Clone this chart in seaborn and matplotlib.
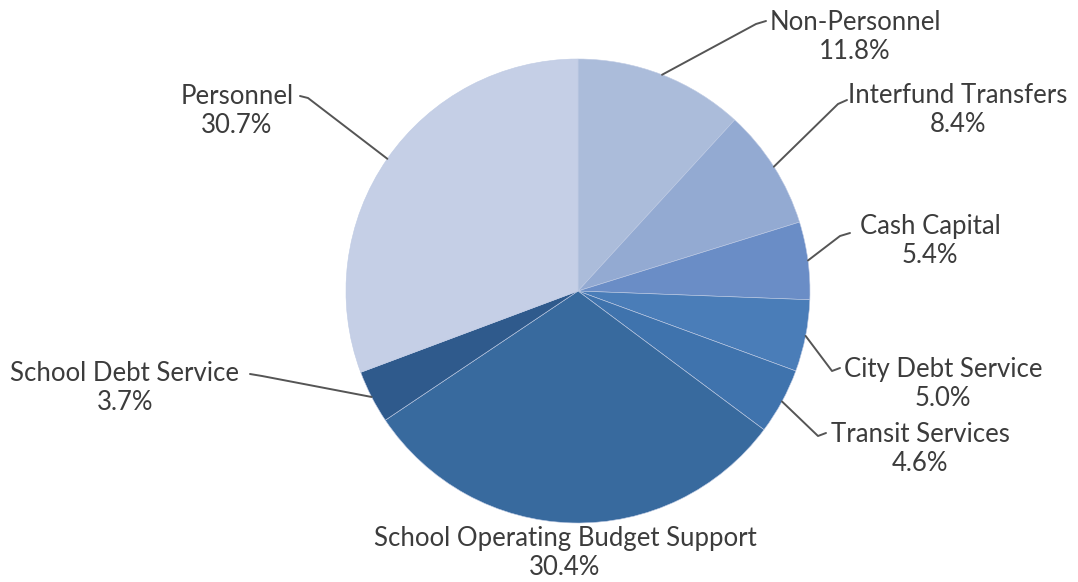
import numpy as np
import matplotlib
matplotlib.use("Agg")
import matplotlib.pyplot as plt
import seaborn as sns

categories = ["Non-Personnel", "Interfund Transfers", "Cash Capital", "City Debt Service",
              "Transit Services", "School Operating Budget Support", "School Debt Service", "Personnel"]
values = [11.8, 8.4, 5.4, 5.0, 4.6, 30.4, 3.7, 30.7]
colors = ["#ABBCDA", "#93AAD2", "#6A8DC6", "#4A7DB8", "#3F73AD", "#386A9E", "#2F5A8C", "#C5CFE6"]

sns.set_theme(style="white")
plt.rcParams["font.family"] = ["Lato", "DejaVu Sans"]

W, H = 1078, 582
fig = plt.figure(figsize=(W / 100, H / 100), dpi=100)
ax = fig.add_axes([0, 0, 1, 1])

cx, cy, r = 578, H - 291, 232
wedges, _ = ax.pie(values, colors=colors, startangle=90, counterclock=False,
                   center=(cx, cy), radius=r, frame=True,
                   wedgeprops=dict(edgecolor="#BFCBE4", linewidth=0.4))
ax.set_xlim(0, W)
ax.set_ylim(0, H)
ax.set_aspect("equal")
ax.axis("off")

# label layout (pixel coords from top): text center, elbow point, end point
layout = {
    "Non-Personnel": ((855, 37), (756, 24), (766, 21)),
    "Interfund Transfers": ((958, 110), (838, 104), (847, 100)),
    "Cash Capital": ((930, 241), (840, 236), (850, 233)),
    "City Debt Service": ((943, 384), (832, 371), (840, 368)),
    "Transit Services": ((920, 449), (818, 436), (826, 433)),
    "School Operating Budget Support": ((565, 553), None, None),
    "School Debt Service": ((125, 388), (262, 376), (250, 374)),
    "Personnel": ((237, 111), (308, 98), (300, 96)),
}

txt_color = "#3c3c3c"
line_color = "#555555"
for w, cat, val in zip(wedges, categories, values):
    (tx, ty), elbow, end = layout[cat]
    ax.text(tx, H - ty, f"{cat}\n{val:.1f}%", ha="center", va="center",
            fontsize=18.5, color=txt_color, linespacing=1.22)
    if elbow is not None:
        ang = np.deg2rad((w.theta1 + w.theta2) / 2)
        ex, ey = cx + r * np.cos(ang), cy + r * np.sin(ang)
        ax.plot([ex, elbow[0], end[0]], [ey, H - elbow[1], H - end[1]],
                color=line_color, lw=1.4, solid_capstyle="round")

fig.savefig("out.png", dpi=100, facecolor="white")
